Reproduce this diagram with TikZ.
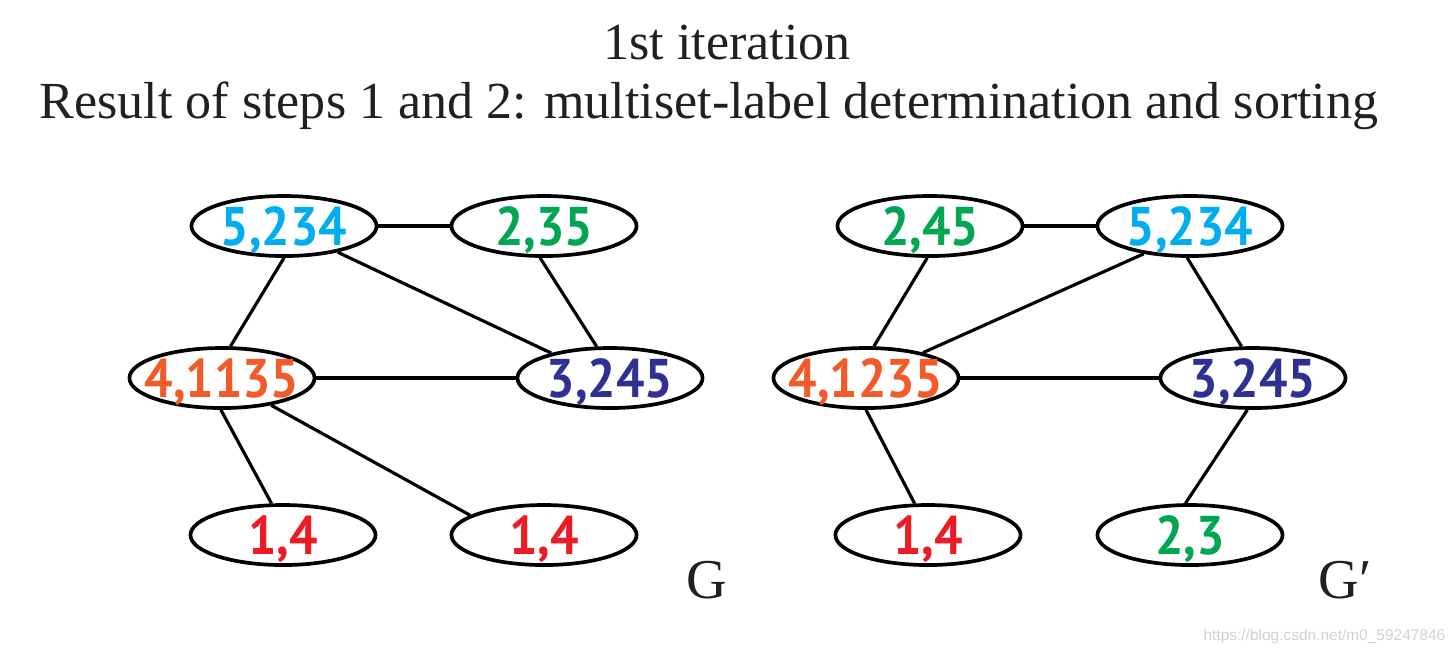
\documentclass[tikz,border=0pt]{standalone}
\usepackage{fontspec}
\setmainfont{Liberation Serif}
\newfontfamily\numfont{PT Sans}
\newfontfamily\wmfont{Liberation Sans}
\usetikzlibrary{shapes.geometric}
\definecolor{ncyan}{RGB}{0,174,239}
\definecolor{ngreen}{RGB}{0,166,81}
\definecolor{norange}{RGB}{241,90,41}
\definecolor{nred}{RGB}{237,28,36}
\definecolor{nnavy}{RGB}{46,49,146}
\definecolor{tblack}{RGB}{35,31,32}
\newcommand{\numtxt}[1]{\smash{\makebox[0pt]{\raisebox{-0.5\height}{\numfont\bfseries\fontsize{15.5}{15.5}\selectfont\scalebox{0.92}[1]{#1}}}}}
\tikzset{
  vtx/.style={ellipse, draw=black, line width=1.05pt, inner sep=0pt,
    minimum width=1.85cm, minimum height=0.6cm, fill=white},
  edge/.style={line width=0.9pt, draw=black},
  ttl/.style={font=\fontsize{14.8}{17}\selectfont, inner sep=0pt, text=tblack},
  glab/.style={font=\fontsize{16}{18}\selectfont, inner sep=0pt, text=tblack},
}
\begin{document}
\begin{tikzpicture}[x=0.01cm,y=-0.01cm]
\useasboundingbox (0,0) rectangle (1454,656);
% titles
\node[ttl] (t1) at (727,43) {1st iteration};
\node[ttl] (t2) at (709,106) {Result of steps 1 and 2: multiset-label determination and sorting};
% graph G
\node[vtx] (a) at (284,226) {\numtxt{\textcolor{ncyan}{5,234}}};
\node[vtx] (b) at (544,226) {\numtxt{\textcolor{ngreen}{2,35}}};
\node[vtx] (c) at (222,378) {\numtxt{\textcolor{norange}{4,1135}}};
\node[vtx] (d) at (610,378) {\numtxt{\textcolor{nnavy}{3,245}}};
\node[vtx] (e) at (283,535) {\numtxt{\textcolor{nred}{1,4}}};
\node[vtx] (f) at (544,535) {\numtxt{\textcolor{nred}{1,4}}};
\node[glab] (g) at (707,580) {G};
\draw[edge] (a.east) -- (b.west);
\draw[edge] (a.-26) -- (d.157);
\draw[edge] (b.-97) -- (d.113);
\draw[edge] (a.-90) -- (c.75);
\draw[edge] (c.east) -- (d.west);
\draw[edge] (c.-92) -- (e.110);
\draw[edge] (c.-29) -- (f.165);
% graph G'
\node[vtx] (p) at (930,226) {\numtxt{\textcolor{ngreen}{2,45}}};
\node[vtx] (q) at (1190,226) {\numtxt{\textcolor{ncyan}{5,234}}};
\node[vtx] (r) at (866,378) {\numtxt{\textcolor{norange}{4,1235}}};
\node[vtx] (s) at (1253,378) {\numtxt{\textcolor{nnavy}{3,245}}};
\node[vtx] (t) at (928,535) {\numtxt{\textcolor{nred}{1,4}}};
\node[vtx] (u) at (1190,535) {\numtxt{\textcolor{ngreen}{2,3}}};
\node[glab] (gp) at (1345,580) {G′};
\draw[edge] (p.east) -- (q.west);
\draw[edge] (p.-95) -- (r.76);
\draw[edge] (q.-149) -- (r.24);
\draw[edge] (q.-95) -- (s.110);
\draw[edge] (r.east) -- (s.west);
\draw[edge] (r.-90) -- (t.113);
\draw[edge] (s.-100) -- (u.98);
% watermark
\node[font=\wmfont\fontsize{4.4}{5}\selectfont, text=black!18, anchor=east, inner sep=0pt] (wm) at (1446,636) {https://blog.csdn.net/m0\_59247846};
\end{tikzpicture}
\end{document}
